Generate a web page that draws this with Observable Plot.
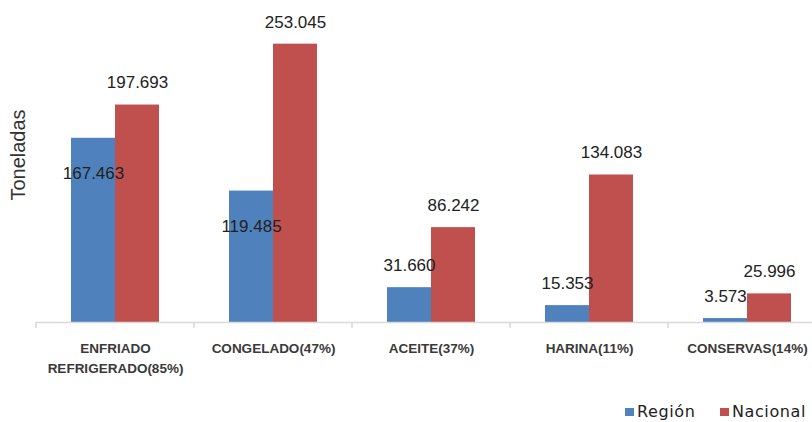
<!DOCTYPE html>
<html>
<head>
<meta charset="utf-8">
<script src="https://cdn.jsdelivr.net/npm/d3@7"></script>
<script src="https://cdn.jsdelivr.net/npm/@observablehq/plot@0.6"></script>
<style>
  html, body { margin: 0; padding: 0; background: #fff; overflow: hidden; }
  #wrap { position: relative; width: 812px; height: 422px; font-family: "Liberation Sans", Arial, sans-serif; }
  #ytitle { position: absolute; left: 18px; top: 155px; transform: translate(-50%, -50%) rotate(-90deg); font-size: 20px; color: #333; white-space: nowrap; }
  .sw { position: absolute; width: 9px; height: 8px; top: 408px; }
  .lt { position: absolute; top: 404px; line-height: 16px; font-size: 16px; letter-spacing: 0.6px; font-family: "DejaVu Sans", sans-serif; color: #222; white-space: nowrap; }
</style>
</head>
<body>
<div id="wrap">
  <div id="chart"></div>
  <div id="ytitle">Toneladas</div>
  <div id="legend"></div>
</div>
<script>
const categories = ["ENFRIADO\nREFRIGERADO(85%)", "CONGELADO(47%)", "ACEITE(37%)", "HARINA(11%)", "CONSERVAS(14%)"];
const series = ["Región", "Nacional"];
const region = [167463, 119485, 31660, 15353, 3573];
const nacional = [197693, 253045, 86242, 134083, 25996];
const colors = ["#4F81BD", "#C0504D"];

const data = [];
categories.forEach((c, i) => {
  data.push({cat: c, s: series[0], v: region[i]});
  data.push({cat: c, s: series[1], v: nacional[i]});
});

const loc = d3.formatLocale({decimal: ",", thousands: ".", grouping: [3], currency: ["", ""]});
const fmt = loc.format(",d");

const plot = Plot.plot({
  width: 812,
  height: 390,
  marginTop: 14,
  marginBottom: 68,
  marginLeft: 36,
  marginRight: 0,
  style: {background: "transparent", overflow: "visible"},
  fx: {domain: categories, range: [36, 826], padding: 0, axis: null},
  x: {domain: series, paddingInner: 0, paddingOuter: 0.756, axis: null},
  y: {domain: [0, 280000], axis: null},
  color: {domain: series, range: colors},
  marks: [
    Plot.barY(data, {fx: "cat", x: "s", y: "v", fill: "s"}),
    Plot.ruleY([0], {stroke: "#d9d9d9", strokeWidth: 1.5}),
    Plot.text(data.filter(d => d.s === "Nacional" || d.v < 100000), {
      fx: "cat", x: "s", y: "v", text: d => fmt(d.v), dy: -22,
      fontSize: 17, fill: "#222", fontFamily: "Liberation Sans, Arial, sans-serif"
    }),
    Plot.text(data.filter(d => d.s === "Región" && d.v >= 100000), {
      fx: "cat", x: "s", y: "v", text: d => fmt(d.v), dy: 35,
      fontSize: 17, fill: "#222", fontFamily: "Liberation Sans, Arial, sans-serif"
    }),
    Plot.text(categories, {
      fx: d => d, text: d => d, frameAnchor: "bottom", lineAnchor: "top", dy: 16,
      lineHeight: 1.48, fontSize: 13.5, fontWeight: "bold", fill: "#3a3a3a",
      fontFamily: "Liberation Sans, Arial, sans-serif"
    })
  ]
});

// category boundary ticks derived from the library's fx scale
const fxs = plot.scale("fx");
const band = d3.scaleBand().domain(fxs.domain).range(fxs.range)
  .paddingInner(fxs.paddingInner || 0).paddingOuter(fxs.paddingOuter || 0);
const ys = plot.scale("y");
const y0 = ys.range[0];
const bounds = fxs.domain.map(c => band(c)).concat([band(fxs.domain[fxs.domain.length - 1]) + band.bandwidth()]);
d3.select(plot).append("g").selectAll("line").data(bounds).join("line")
  .attr("x1", d => d).attr("x2", d => d).attr("y1", y0).attr("y2", y0 + 6)
  .attr("stroke", "#d9d9d9").attr("stroke-width", 1.5);

document.getElementById("chart").appendChild(plot);

const legend = document.getElementById("legend");
const legendX = [[625, 637], [720, 732]];
series.forEach((s, i) => {
  const sw = document.createElement("span");
  sw.className = "sw";
  sw.style.left = legendX[i][0] + "px";
  sw.style.background = colors[i];
  legend.appendChild(sw);
  const t = document.createElement("span");
  t.className = "lt";
  t.style.left = legendX[i][1] + "px";
  t.textContent = s;
  legend.appendChild(t);
});
</script>
</body>
</html>
